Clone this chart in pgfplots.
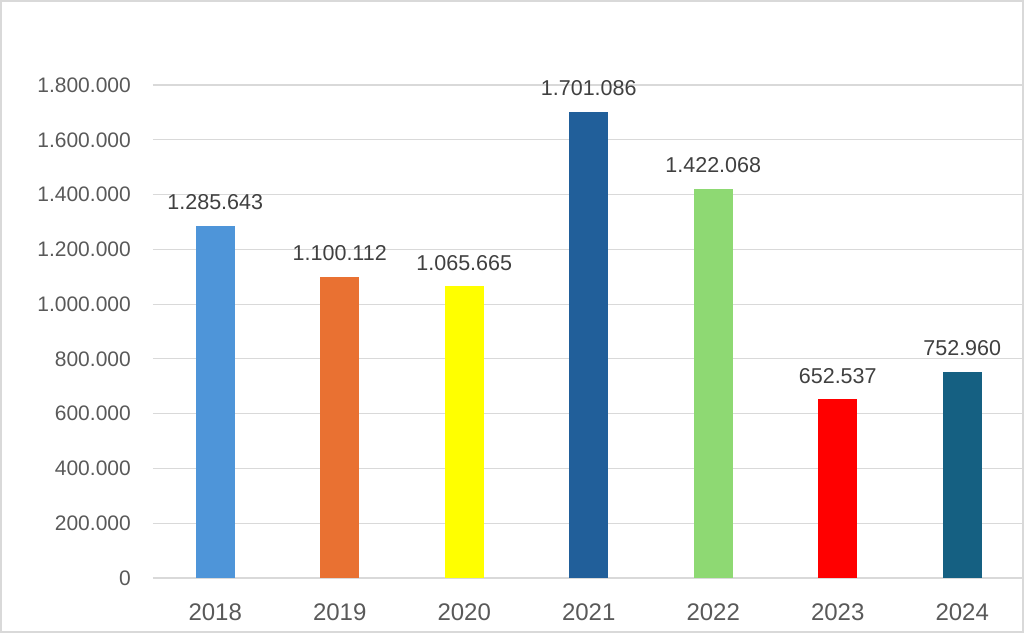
\documentclass[border=0pt]{standalone}
\usepackage{pgfplots}
\pgfplotsset{compat=1.18}
\usepackage{fontspec}
\setmainfont{Liberation Sans}
\definecolor{gridc}{HTML}{D9D9D9}
\definecolor{tickc}{HTML}{595959}
\definecolor{labc}{HTML}{404040}
\definecolor{c18}{HTML}{4E95D9}
\definecolor{c19}{HTML}{E97132}
\definecolor{c20}{HTML}{FFFF00}
\definecolor{c21}{HTML}{215F9A}
\definecolor{c22}{HTML}{8ED973}
\definecolor{c23}{HTML}{FF0000}
\definecolor{c24}{HTML}{156082}
\begin{document}
\begin{tikzpicture}
\useasboundingbox (-153pt,-55pt) rectangle (871pt,578pt);
\begin{axis}[
  scale only axis,
  width=869pt, height=493pt,
  xmin=-0.5, xmax=6.48, ymin=0, ymax=1800000,
  axis line style={draw=none},
  ymajorgrids, major grid style={gridc, line width=1.2pt},
  ytick={0,200000,400000,600000,800000,1000000,1200000,1400000,1600000,1800000},
  scaled y ticks=false,
  xtick={0,1,2,3,4,5,6},
  xticklabels={2018,2019,2020,2021,2022,2023,2024},
  major tick length=0pt, tick style={draw=none},
  yticklabel style={font=\fontsize{21pt}{21pt}\selectfont, text=tickc, anchor=east, inner sep=0pt, xshift=-22pt},
  xticklabel style={font=\fontsize{24pt}{24pt}\selectfont, text=tickc, anchor=north, inner sep=0pt, yshift=-25.3pt},
  /pgf/number format/.cd, 1000 sep={.}, fixed, precision=0, assume math mode=true,
  /pgfplots/.cd,
  nodes near coords,
  nodes near coords style={font=\fontsize{21.5pt}{21.5pt}\selectfont, text=labc, inner sep=0pt, anchor=south, yshift=15.7pt},
  every axis plot/.append style={ybar, bar shift=0pt, bar width=39pt, draw=none},
]
\addplot[fill=c18] coordinates {(0,1285643)};
\addplot[fill=c19] coordinates {(1,1100112)};
\addplot[fill=c20] coordinates {(2,1065665)};
\addplot[fill=c21] coordinates {(3,1701086)};
\addplot[fill=c22] coordinates {(4,1422068)};
\addplot[fill=c23] coordinates {(5,652537)};
\addplot[fill=c24] coordinates {(6,752960)};
\end{axis}
\draw[draw=gridc, line width=1.6pt] (-152pt,-54pt) rectangle (870pt,577pt);
\end{tikzpicture}
\end{document}
